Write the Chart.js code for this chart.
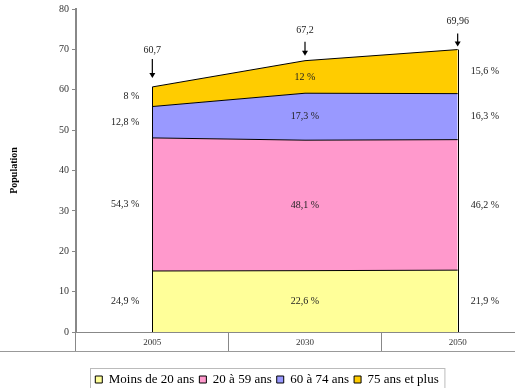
<!DOCTYPE html>
<html>
<head>
<meta charset="utf-8">
<script src="https://cdn.jsdelivr.net/npm/chart.js@4"></script>
<style>
  html, body { margin: 0; padding: 0; background: #fff; }
  #wrap { width: 515px; height: 388px; overflow: hidden; }
</style>
</head>
<body>
<div id="wrap"><canvas id="chart" width="536" height="388"></canvas></div>
<script>
// Données (population en millions)
const annees = ['2005', '2030', '2050'];
const groupes = ['Moins de 20 ans', '20 à 59 ans', '60 à 74 ans', '75 ans et plus'];
const moins20 = [15.11, 15.19, 15.32];
const de20a59 = [32.96, 32.32, 32.32];
const de60a74 = [7.77, 11.63, 11.40];
const plus75 = [4.86, 8.06, 10.91];
const totaux = [60.7, 67.2, 69.96];
// Parts en %
const partsMoins20 = [24.9, 22.6, 21.9];
const parts20a59 = [54.3, 48.1, 46.2];
const parts60a74 = [12.8, 17.3, 16.3];
const parts75 = [8, 12, 15.6];

const couleurs = ['#FFFF99', '#FF99CC', '#9999FF', '#FFCC00'];
const series = [moins20, de20a59, de60a74, plus75];
const parts = [partsMoins20, parts20a59, parts60a74, parts75];

const serif = '"Liberation Serif", "Times New Roman", serif';
const fmt = v => String(v).replace('.', ',');

// Étiquettes de pourcentage, totaux et flèches
const annotations = {
    id: 'annotations',
    afterDatasetsDraw(chart) {
        const { ctx, scales: { x, y } } = chart;
        ctx.save();

        // bords verticaux de l'aire
        ctx.strokeStyle = '#000';
        ctx.lineWidth = 1;
        [0, annees.length - 1].forEach(i => {
            const somme = series.reduce((acc, s) => acc + s[i], 0);
            const px = Math.round(x.getPixelForValue(i)) + 0.5;
            ctx.beginPath();
            ctx.moveTo(px, y.getPixelForValue(0));
            ctx.lineTo(px, y.getPixelForValue(somme));
            ctx.stroke();
        });

        // pourcentages
        ctx.font = '10px ' + serif;
        ctx.fillStyle = '#222';
        ctx.textBaseline = 'middle';
        annees.forEach((a, i) => {
            const px = x.getPixelForValue(i);
            let base = 0;
            series.forEach((s, k) => {
                const haut = base + s[i];
                const py = (y.getPixelForValue(base) + y.getPixelForValue(haut)) / 2;
                const texte = fmt(parts[k][i]) + ' %';
                if (i === 0) {
                    ctx.textAlign = 'right';
                    ctx.fillText(texte, px - 13, py);
                } else if (i === annees.length - 1) {
                    ctx.textAlign = 'left';
                    ctx.fillText(texte, px + 13, py);
                } else {
                    ctx.textAlign = 'center';
                    ctx.fillText(texte, px, py);
                }
                base = haut;
            });
        });

        // totaux avec flèches
        const longueurs = [[28, 9, 37], [19, 5, 30], [16, 3, 28]];
        annees.forEach((a, i) => {
            const px = x.getPixelForValue(i);
            const somme = series.reduce((acc, s) => acc + s[i], 0);
            const top = y.getPixelForValue(somme);
            const [debut, fin, lab] = longueurs[i];
            ctx.textAlign = 'center';
            ctx.fillStyle = '#222';
            ctx.fillText(fmt(totaux[i]), px, top - lab);
            ctx.strokeStyle = '#000';
            ctx.lineWidth = 1.2;
            ctx.beginPath();
            ctx.moveTo(px, top - debut);
            ctx.lineTo(px, top - fin - 4);
            ctx.stroke();
            ctx.fillStyle = '#000';
            ctx.beginPath();
            ctx.moveTo(px - 3, top - fin - 5);
            ctx.lineTo(px + 3, top - fin - 5);
            ctx.lineTo(px, top - fin);
            ctx.closePath();
            ctx.fill();
        });
        ctx.restore();
    },
    afterDraw(chart) {
        const { ctx, scales: { x } } = chart;
        ctx.save();
        // ligne sous les années
        const yLigne = Math.round(x.top + 19) + 0.5;
        ctx.strokeStyle = '#999';
        ctx.lineWidth = 1;
        ctx.beginPath();
        ctx.moveTo(0, yLigne);
        ctx.lineTo(chart.width, yLigne);
        ctx.stroke();

        // cadre de la légende
        const boxes = chart.legend.legendHitBoxes;
        if (boxes.length) {
            const gauche = Math.min(...boxes.map(b => b.left)) - 5;
            const droite = Math.max(...boxes.map(b => b.left + b.width)) + 6;
            const haut = Math.min(...boxes.map(b => b.top)) - 5;
            ctx.strokeStyle = '#bbb';
            ctx.strokeRect(Math.round(gauche) + 0.5, Math.round(haut) + 0.5, droite - gauche, chart.height);
        }
        ctx.restore();
    }
};

const ctx = document.getElementById('chart').getContext('2d');
const chart = new Chart(ctx, {
    type: 'line',
    data: {
        labels: annees,
        datasets: series.map((s, k) => ({
            label: groupes[k],
            data: s,
            backgroundColor: couleurs[k],
            borderColor: '#000',
            borderWidth: 1,
            pointRadius: 0,
            tension: 0,
            fill: k === 0 ? 'origin' : '-1'
        }))
    },
    options: {
        responsive: false,
        animation: false,
        layout: { padding: { top: 7, right: 2, bottom: -8, left: 0 } },
        plugins: {
            legend: {
                position: 'bottom',
                labels: {
                    font: { family: serif, size: 13 },
                    color: '#000',
                    boxWidth: 7,
                    boxHeight: 7,
                    padding: 5
                }
            },
            tooltip: { enabled: false }
        },
        scales: {
            x: {
                offset: true,
                grid: {
                    offset: true,
                    drawOnChartArea: false,
                    tickLength: 19,
                    color: '#888'
                },
                border: { color: '#888', width: 1 },
                ticks: {
                    font: { family: serif, size: 9 },
                    color: '#333',
                    padding: -14
                },
                afterFit: scale => { scale.height = 36; }
            },
            y: {
                stacked: true,
                min: 0,
                max: 80,
                ticks: {
                    stepSize: 10,
                    font: { family: serif, size: 10 },
                    color: '#333',
                    padding: 3
                },
                grid: {
                    drawOnChartArea: false,
                    tickLength: 4,
                    color: '#888'
                },
                border: { color: '#888', width: 2 },
                title: {
                    display: true,
                    text: 'Population',
                    font: { family: serif, size: 10, weight: 'bold' },
                    color: '#000',
                    padding: { top: 8, bottom: 0 }
                },
                afterFit: scale => { scale.width = 76; }
            }
        }
    },
    plugins: [annotations]
});
</script>
</body>
</html>
